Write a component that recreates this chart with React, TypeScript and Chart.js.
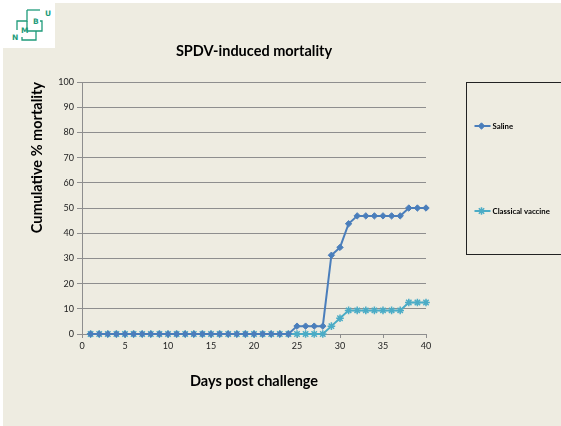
import React, { useEffect, useRef } from 'react';
import { Chart, registerables } from 'chart.js';
import { drawPoint } from 'chart.js/helpers';

Chart.register(...registerables);

// ---- data ----
const days = [
  1, 2, 3, 4, 5, 6, 7, 8, 9, 10, 11, 12, 13, 14, 15, 16, 17, 18, 19, 20,
  21, 22, 23, 24, 25, 26, 27, 28, 29, 30, 31, 32, 33, 34, 35, 36, 37, 38, 39, 40,
];
const saline = [
  0, 0, 0, 0, 0, 0, 0, 0, 0, 0, 0, 0, 0, 0, 0, 0, 0, 0, 0, 0,
  0, 0, 0, 0, 3.125, 3.125, 3.125, 3.125, 31.25, 34.375, 43.75, 46.875, 46.875, 46.875, 46.875, 46.875, 46.875, 50, 50, 50,
];
const classicalVaccine = [
  0, 0, 0, 0, 0, 0, 0, 0, 0, 0, 0, 0, 0, 0, 0, 0, 0, 0, 0, 0,
  0, 0, 0, 0, 0, 0, 0, 0, 3.125, 6.25, 9.375, 9.375, 9.375, 9.375, 9.375, 9.375, 9.375, 12.5, 12.5, 12.5,
];
const seriesLabels = ['Saline', 'Classical vaccine'];
const chartTitle = 'SPDV-induced mortality';
const xAxisTitle = 'Days post challenge';
const yAxisTitle = 'Cumulative % mortality';
const xMin = 0;
const xMax = 40;
const xStep = 5;
const yMin = 0;
const yMax = 100;
const yStep = 10;

// ---- styles ----
const SALINE_COLOR = '#4a7ebb';
const VACCINE_COLOR = '#4bacc6';
const GRID_COLOR = '#8e8e8e';
const FONT = 'Lato';
const BG = '#eeece1';

const boxLegend = {
  id: 'boxLegend',
  afterDraw(chart: any) {
    const { ctx, chartArea } = chart;
    const left = Math.round(chartArea.right + 40) + 0.5;
    const top = Math.round(chartArea.top) + 0.5;
    const bottom = Math.round(chartArea.bottom - 80) + 0.5;
    ctx.save();
    ctx.strokeStyle = '#222';
    ctx.lineWidth = 1;
    ctx.strokeRect(left, top, chart.width - left + 20, bottom - top);
    const rowsY = [top + 43.5, top + 128.5];
    chart.data.datasets.forEach((ds: any, i: number) => {
      const y = rowsY[i];
      ctx.strokeStyle = ds.borderColor;
      ctx.lineWidth = 2;
      ctx.beginPath();
      ctx.moveTo(left + 8, y);
      ctx.lineTo(left + 24, y);
      ctx.stroke();
      ctx.fillStyle = ds.pointBackgroundColor;
      ctx.strokeStyle = ds.pointBorderColor;
      ctx.lineWidth = ds.pointBorderWidth;
      drawPoint(ctx, { pointStyle: ds.pointStyle, radius: ds.pointRadius, rotation: 0, borderWidth: ds.pointBorderWidth }, left + 15, y);
      ctx.fillStyle = '#000';
      ctx.font = `bold 7.8px ${FONT}`;
      ctx.textAlign = 'left';
      ctx.textBaseline = 'middle';
      ctx.fillText(ds.label, left + 26, y + 0.5);
    });
    ctx.restore();
  },
};

function LineChart() {
  const ref = useRef<HTMLCanvasElement | null>(null);
  useEffect(() => {
    if (!ref.current) return;
    const chart = new Chart(ref.current, {
      type: 'line',
      data: {
        datasets: [
          {
            label: seriesLabels[0],
            data: days.map((d, i) => ({ x: d, y: saline[i] })),
            borderColor: SALINE_COLOR,
            backgroundColor: SALINE_COLOR,
            pointBackgroundColor: SALINE_COLOR,
            pointBorderColor: SALINE_COLOR,
            borderWidth: 2,
            pointStyle: 'rectRot',
            pointRadius: 3.2,
            pointBorderWidth: 1,
            tension: 0,
            clip: false,
          },
          {
            label: seriesLabels[1],
            data: days.map((d, i) => ({ x: d, y: classicalVaccine[i] })),
            borderColor: VACCINE_COLOR,
            backgroundColor: VACCINE_COLOR,
            pointBackgroundColor: VACCINE_COLOR,
            pointBorderColor: VACCINE_COLOR,
            borderWidth: 2,
            pointStyle: 'star',
            pointRadius: 3.8,
            pointBorderWidth: 1.5,
            tension: 0,
            clip: false,
          },
        ] as any,
      },
      options: {
        responsive: false,
        animation: false,
        layout: { padding: { left: 0, top: 0, right: 135, bottom: 0 } },
        plugins: {
          legend: { display: false },
          tooltip: { enabled: false },
          title: {
            display: true,
            fullSize: false,
            text: chartTitle,
            color: '#000',
            font: { family: FONT, size: 14.5, weight: 'bold' },
            padding: { top: 42.3, bottom: 22.3 },
          },
        },
        scales: {
          x: {
            type: 'linear',
            min: xMin,
            max: xMax,
            ticks: { stepSize: xStep, color: '#222', font: { family: FONT, size: 9 }, padding: 3, maxRotation: 0 },
            grid: { display: true, drawOnChartArea: false, drawTicks: true, tickLength: 4, color: GRID_COLOR },
            border: { display: true, color: GRID_COLOR },
            title: {
              display: true,
              text: xAxisTitle,
              color: '#000',
              font: { family: FONT, size: 14.5, weight: 'bold' },
              padding: { top: 0, bottom: 36.3 },
            },
            afterFit: (s: any) => {
              s.height = 92;
            },
          },
          y: {
            min: yMin,
            max: yMax,
            ticks: { stepSize: yStep, color: '#222', font: { family: FONT, size: 9 }, padding: 3 },
            grid: { color: GRID_COLOR, tickLength: 5 },
            border: { display: true, color: GRID_COLOR },
            title: {
              display: true,
              text: yAxisTitle,
              align: 'end',
              color: '#000',
              font: { family: FONT, size: 14.5, weight: 'bold' },
              padding: { top: 28.3, bottom: 0 },
            },
            afterFit: (s: any) => {
              s.width = 82;
            },
          },
        },
      } as any,
      plugins: [boxLegend],
    });
    return () => chart.destroy();
  }, []);
  return <canvas ref={ref} width={561} height={426} style={{ position: 'absolute', left: 0, top: 0, width: 561, height: 426 }} />;
}

function Logo() {
  const g = '#1f9b7a';
  return (
    <div style={{ position: 'absolute', left: 0, top: 0, width: 55, height: 48, background: '#fff' }}>
      <svg width={55} height={48} viewBox="0 0 55 48">
        <g stroke={g} strokeWidth={1.3} fill="none">
          <path d="M27 10 H40" />
          <path d="M27 10 V21 H17 V30" />
          <path d="M27 21 V31 H42 V21 H40" />
          <path d="M36 31 V40 H22 V37" />
        </g>
        <g fill={g} fontFamily="DejaVu Sans, sans-serif" fontSize={7.5} fontWeight="bold">
          <text x={45} y={16}>U</text>
          <text x={33} y={24}>B</text>
          <text x={21} y={33}>M</text>
          <text x={12} y={40}>N</text>
        </g>
      </svg>
    </div>
  );
}

export default function App() {
  return (
    <div style={{ position: 'fixed', left: 0, top: 0, width: 561, height: 426, background: '#fff', overflow: 'hidden' }}>
      <div style={{ position: 'absolute', left: 3, top: 3, width: 558, height: 423, background: BG }} />
      <Logo />
      <LineChart />
    </div>
  );
}
